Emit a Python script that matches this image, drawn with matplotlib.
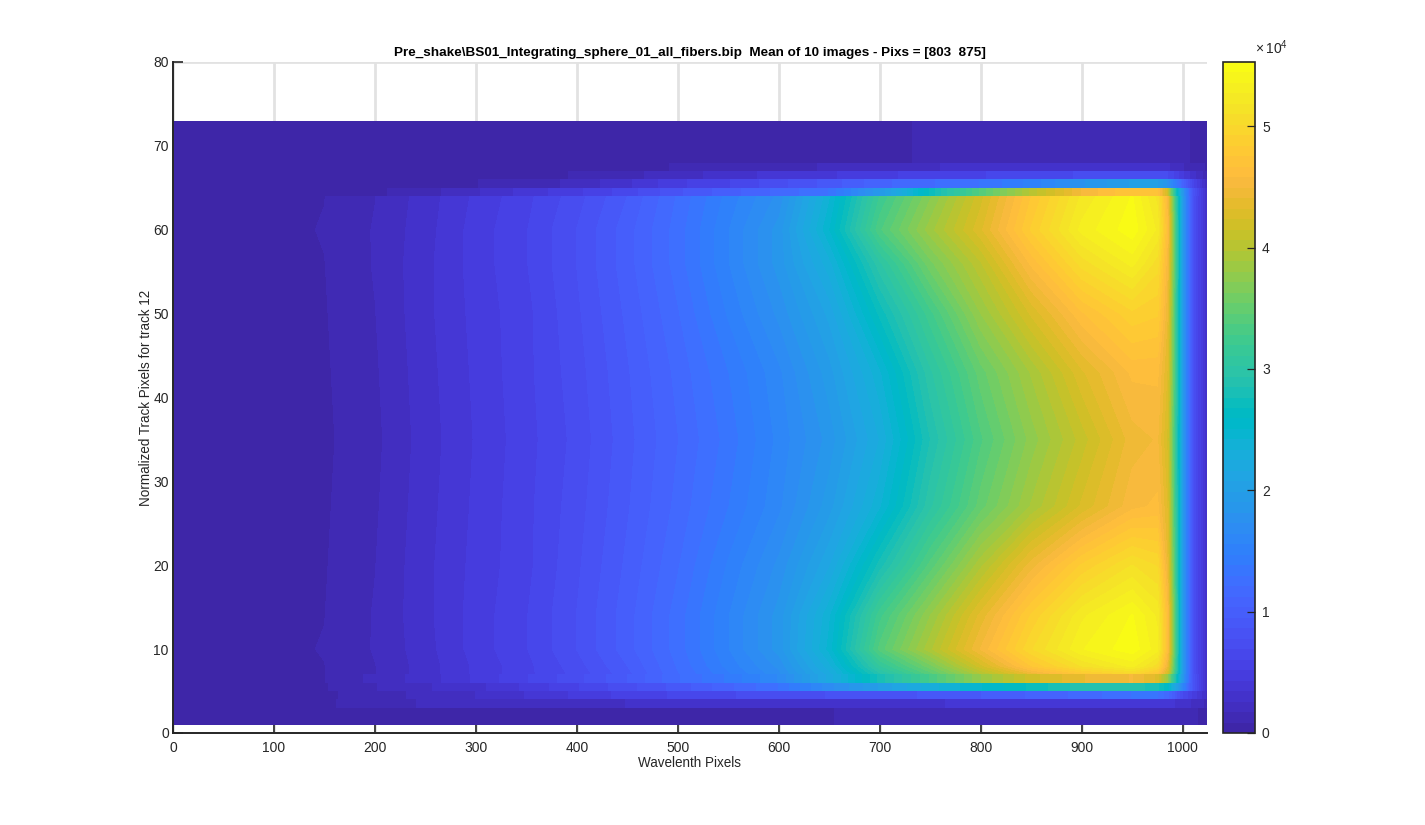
import numpy as np
import matplotlib
matplotlib.use("Agg")
import matplotlib.pyplot as plt
from matplotlib.colors import ListedColormap, BoundaryNorm

plt.rcParams["font.family"] = ["Liberation Sans", "DejaVu Sans"]
plt.rcParams["mathtext.fontset"] = "custom"
plt.rcParams["mathtext.rm"] = "Liberation Sans"

TITLE = r"Pre_shake\BS01_Integrating_sphere_01_all_fibers.bip  Mean of 10 images - Pixs = [803  875]"

# parula, 64 levels
parula = [
    [0.2422, 0.1504, 0.6603], [0.2504, 0.1650, 0.7076], [0.2578, 0.1818, 0.7511], [0.2647, 0.1978, 0.7952],
    [0.2706, 0.2147, 0.8364], [0.2751, 0.2342, 0.8710], [0.2783, 0.2559, 0.8991], [0.2803, 0.2782, 0.9221],
    [0.2813, 0.3006, 0.9414], [0.2810, 0.3228, 0.9579], [0.2795, 0.3447, 0.9717], [0.2760, 0.3667, 0.9829],
    [0.2699, 0.3892, 0.9906], [0.2602, 0.4123, 0.9952], [0.2440, 0.4358, 0.9988], [0.2206, 0.4603, 0.9973],
    [0.1963, 0.4847, 0.9892], [0.1834, 0.5074, 0.9798], [0.1786, 0.5289, 0.9682], [0.1764, 0.5499, 0.9520],
    [0.1687, 0.5703, 0.9359], [0.1540, 0.5902, 0.9218], [0.1460, 0.6091, 0.9079], [0.1380, 0.6276, 0.8973],
    [0.1248, 0.6459, 0.8883], [0.1113, 0.6635, 0.8763], [0.0952, 0.6798, 0.8598], [0.0689, 0.6948, 0.8394],
    [0.0297, 0.7082, 0.8163], [0.0036, 0.7203, 0.7917], [0.0067, 0.7312, 0.7660], [0.0433, 0.7411, 0.7394],
    [0.0964, 0.7500, 0.7120], [0.1408, 0.7584, 0.6842], [0.1717, 0.7670, 0.6554], [0.1938, 0.7758, 0.6251],
    [0.2161, 0.7843, 0.5923], [0.2470, 0.7918, 0.5567], [0.2906, 0.7973, 0.5188], [0.3406, 0.8008, 0.4789],
    [0.3909, 0.8029, 0.4354], [0.4456, 0.8024, 0.3909], [0.5044, 0.7993, 0.3480], [0.5616, 0.7942, 0.3045],
    [0.6174, 0.7876, 0.2612], [0.6720, 0.7793, 0.2227], [0.7242, 0.7698, 0.1910], [0.7738, 0.7598, 0.1646],
    [0.8203, 0.7498, 0.1535], [0.8634, 0.7406, 0.1596], [0.9035, 0.7330, 0.1774], [0.9393, 0.7288, 0.2100],
    [0.9728, 0.7298, 0.2394], [0.9956, 0.7434, 0.2371], [0.9970, 0.7659, 0.2199], [0.9952, 0.7893, 0.2028],
    [0.9892, 0.8136, 0.1885], [0.9786, 0.8386, 0.1766], [0.9676, 0.8639, 0.1643], [0.9610, 0.8890, 0.1537],
    [0.9597, 0.9135, 0.1423], [0.9628, 0.9373, 0.1265], [0.9691, 0.9606, 0.1064], [0.9769, 0.9839, 0.0805],
]

# wavelength pixel positions of the values below
pix_x = [0, 150, 200, 250, 300, 350, 400, 450, 500, 550, 600, 650, 700, 750, 800, 850, 900, 950, 975, 985, 992, 1000, 1010, 1024]

# smooth part of the track, values in units of 1e4
body_y = [7, 8, 10, 14, 20, 27, 35, 43, 50, 56, 60, 64]
body_counts = [
    [.03, .085, .17, .30, .45, .58, .72, .92, 1.20, 1.45, 1.70, 2.20, 2.90, 3.40, 3.95, 4.40, 4.75, 4.95, 4.70, 4.20, 3.20, 1.9, .8, .25],
    [.03, .085, .17, .30, .45, .58, .74, .95, 1.22, 1.50, 1.75, 2.30, 3.10, 3.60, 4.20, 4.75, 5.10, 5.30, 5.05, 4.40, 3.30, 1.9, .8, .25],
    [.03, .090, .18, .31, .47, .60, .78, 1.00, 1.25, 1.55, 1.85, 2.45, 3.40, 3.95, 4.50, 5.00, 5.35, 5.50, 5.30, 4.60, 3.40, 1.9, .8, .25],
    [.03, .085, .18, .32, .47, .60, .78, 1.00, 1.25, 1.55, 1.85, 2.40, 3.25, 3.80, 4.35, 4.85, 5.25, 5.45, 5.25, 4.60, 3.40, 1.9, .8, .25],
    [.03, .080, .17, .32, .46, .58, .76, .97, 1.20, 1.48, 1.75, 2.15, 2.80, 3.40, 3.95, 4.45, 4.85, 5.10, 5.00, 4.40, 3.30, 1.9, .8, .25],
    [.03, .075, .16, .31, .45, .58, .74, .94, 1.15, 1.38, 1.62, 1.95, 2.40, 3.00, 3.50, 3.90, 4.25, 4.55, 4.60, 4.30, 3.25, 1.9, .8, .25],
    [.03, .070, .15, .30, .44, .57, .72, .92, 1.12, 1.33, 1.58, 1.85, 2.25, 2.85, 3.35, 3.75, 4.10, 4.45, 4.50, 4.20, 3.20, 1.9, .8, .25],
    [.03, .075, .16, .31, .45, .58, .74, .94, 1.15, 1.38, 1.62, 1.95, 2.40, 3.00, 3.50, 3.90, 4.30, 4.60, 4.60, 4.30, 3.30, 1.9, .8, .25],
    [.03, .080, .17, .32, .46, .58, .76, .97, 1.20, 1.48, 1.75, 2.10, 2.70, 3.25, 3.80, 4.25, 4.65, 4.90, 4.85, 4.40, 3.30, 1.9, .8, .25],
    [.03, .085, .18, .32, .47, .60, .78, 1.00, 1.25, 1.55, 1.85, 2.30, 3.00, 3.60, 4.05, 4.60, 5.05, 5.30, 5.05, 4.50, 3.40, 1.9, .8, .25],
    [.03, .090, .18, .31, .47, .60, .78, 1.00, 1.25, 1.55, 1.85, 2.50, 3.35, 3.85, 4.30, 4.85, 5.30, 5.50, 5.25, 4.60, 3.40, 1.9, .8, .25],
    [.03, .085, .17, .30, .45, .58, .74, .95, 1.22, 1.50, 1.75, 2.40, 3.20, 3.70, 4.20, 4.75, 5.20, 5.45, 5.15, 4.50, 3.30, 1.9, .8, .25],
]

# sharp rows at the track edges, (low y, high y) then values
band_edges = [(1, 3), (3, 4), (4, 5), (5, 6), (6, 7), (64, 65), (65, 66), (66, 67), (67, 68), (68, 73)]
band_counts = [
    [.03, .05, .07, .08, .08, .08, .08, .08, .08, .08, .08, .085, .10, .12, .12, .13, .14, .15, .15, .14, .14, .12, .10, .06],
    [.03, .07, .14, .18, .20, .22, .24, .26, .28, .28, .30, .30, .32, .34, .36, .38, .40, .42, .42, .40, .35, .30, .25, .15],
    [.03, .07, .13, .20, .26, .35, .45, .55, .62, .68, .75, .78, .82, .88, .95, 1.05, 1.15, 1.30, 1.30, 1.15, .95, .70, .50, .25],
    [.03, .08, .17, .25, .32, .45, .60, .75, .90, 1.10, 1.30, 1.70, 2.00, 2.30, 2.50, 2.70, 2.90, 2.90, 2.80, 2.60, 2.20, 1.60, .85, .25],
    [.03, .085, .20, .30, .45, .60, .75, .95, 1.20, 1.40, 1.65, 2.20, 2.80, 3.30, 3.80, 4.20, 4.40, 4.50, 4.30, 3.80, 3.00, 1.90, .85, .25],
    [.03, .05, .07, .14, .25, .38, .50, .65, .85, 1.00, 1.15, 1.30, 1.90, 2.70, 3.40, 4.00, 4.50, 4.75, 4.70, 4.20, 3.00, 1.90, .85, .25],
    [.03, .04, .05, .06, .085, .12, .20, .33, .50, .60, .75, .90, 1.10, 1.20, 1.30, 1.50, 1.80, 2.00, 2.00, 1.80, 1.50, 1.10, .65, .20],
    [.03, .04, .05, .05, .06, .07, .09, .15, .22, .30, .38, .42, .50, .55, .60, .65, .70, .75, .75, .70, .60, .45, .30, .12],
    [.03, .03, .04, .04, .05, .05, .06, .07, .09, .12, .15, .18, .20, .25, .30, .33, .33, .33, .30, .28, .22, .18, .13, .08],
    [.03, .03, .03, .03, .03, .04, .04, .05, .05, .05, .06, .07, .08, .09, .11, .13, .14, .14, .13, .12, .11, .10, .08, .05],
]

x_ticks = [0, 100, 200, 300, 400, 500, 600, 700, 800, 900, 1000]
y_ticks = [0, 10, 20, 30, 40, 50, 60, 70, 80]
cbar_ticks = [0, 1, 2, 3, 4, 5]
CMAX = 5.53

cmap = ListedColormap(parula)
levels = np.linspace(0, CMAX, 65)
norm = BoundaryNorm(levels, 64)
W, H = 1425, 825
GRID = "#e2e2e2"
DARK = "#262626"

fig = plt.figure(figsize=(W / 100, H / 100), dpi=100, facecolor="white")
ax = fig.add_axes([173 / W, (H - 733) / H, 1034 / W, 671 / H])

cf = ax.contourf(pix_x, body_y, np.array(body_counts), levels=levels, cmap=cmap, norm=norm, antialiased=False)
for (lo, hi), vals in zip(band_edges, band_counts):
    ax.contourf(pix_x, [lo, hi], np.array([vals, vals]), levels=levels, cmap=cmap, norm=norm, antialiased=False)

ax.set_xlim(0, 1024)
ax.set_ylim(0, 80)
ax.set_xticks(x_ticks)
ax.set_yticks(y_ticks)
ax.set_axisbelow(True)
ax.grid(True, color=GRID, linewidth=2)
ax.tick_params(direction="in", length=7.5, width=1.2, color=DARK, labelcolor=DARK, labelsize=10)
ax.tick_params(axis="x", pad=5.5)
ax.tick_params(axis="y", pad=3)
ax.spines["top"].set_visible(False)
ax.spines["right"].set_visible(False)
ax.spines["left"].set_linewidth(1.4)
ax.spines["bottom"].set_linewidth(1.4)
ax.spines["left"].set_color(DARK)
ax.spines["bottom"].set_color(DARK)
ax.set_xlabel("Wavelenth Pixels", fontsize=9.75, color=DARK, labelpad=1.2)
ax.set_ylabel("Normalized Track Pixels for track 12", fontsize=9.75, color=DARK, labelpad=0)
ax.set_title(TITLE, fontsize=9.7, fontweight="bold", color="black", pad=4)

cax = fig.add_axes([1223 / W, (H - 733) / H, 32 / W, 671 / H])
cb = fig.colorbar(cf, cax=cax, ticks=cbar_ticks, spacing="proportional")
cb.ax.set_yticklabels([str(t) for t in cbar_ticks])
cb.outline.set_linewidth(1.2)
cb.outline.set_edgecolor(DARK)
cb.ax.tick_params(direction="in", length=5.5, width=0.9, color=DARK, labelcolor=DARK, labelsize=10, pad=5)
cb.ax.minorticks_off()
cb.ax.text(1.0, 1.008, r"$\times\,\mathrm{10}^{4}$", transform=cb.ax.transAxes, fontsize=10, color=DARK, va="bottom", ha="left")

fig.savefig("out.png", dpi=100)
